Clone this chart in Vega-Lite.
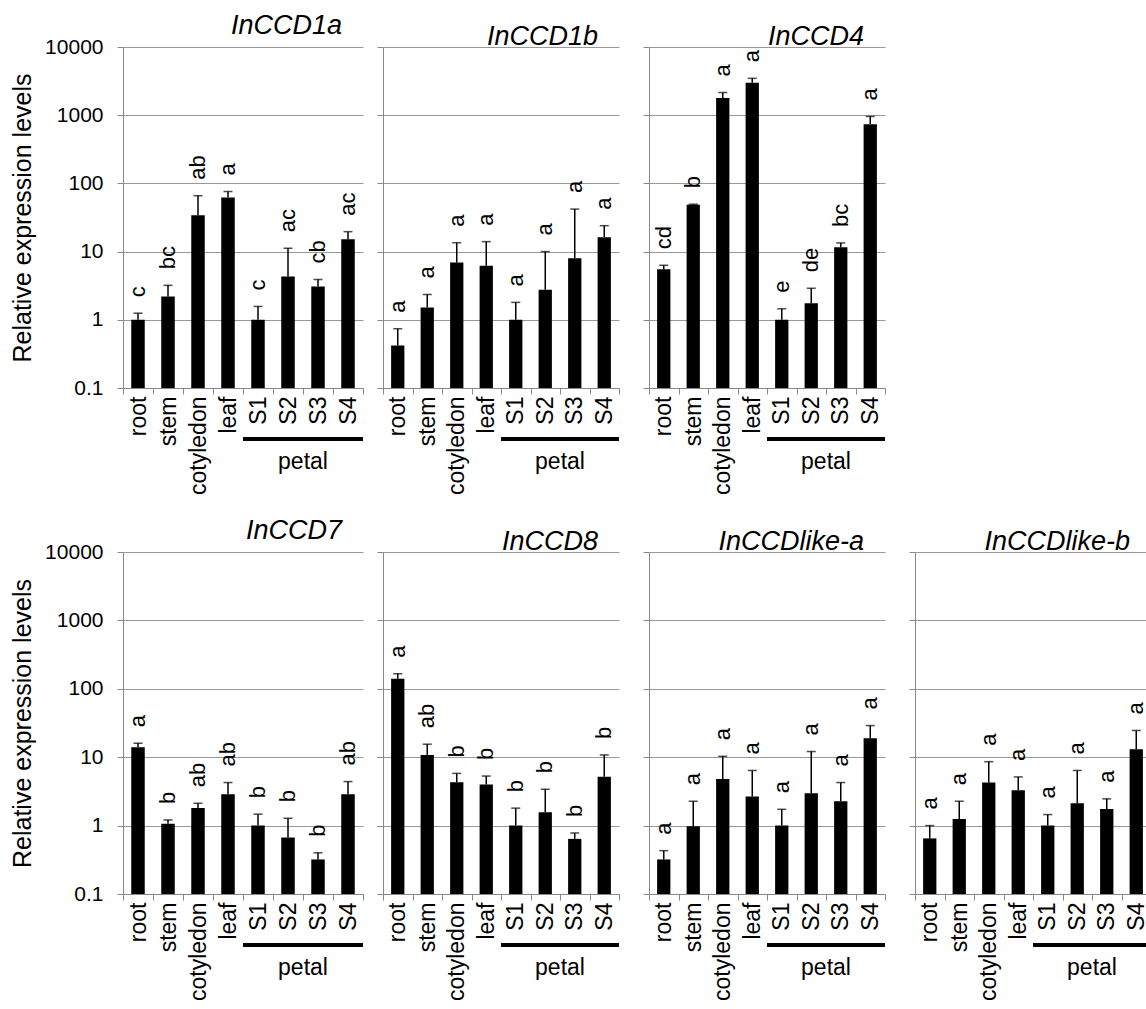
{
  "$schema": "https://vega.github.io/schema/vega-lite/v6.json",
  "background": "white",
  "padding": {"left": 10, "top": 12, "right": 0, "bottom": 0},
  "datasets": {
    "expr": [
      {"gene": "InCCD1a", "tissue": "root", "mean": 1.0, "upper": 1.25, "letter": "c"},
      {"gene": "InCCD1a", "tissue": "stem", "mean": 2.2, "upper": 3.2, "letter": "bc"},
      {"gene": "InCCD1a", "tissue": "cotyledon", "mean": 34, "upper": 66, "letter": "ab"},
      {"gene": "InCCD1a", "tissue": "leaf", "mean": 62, "upper": 76, "letter": "a"},
      {"gene": "InCCD1a", "tissue": "S1", "mean": 1.0, "upper": 1.57, "letter": "c"},
      {"gene": "InCCD1a", "tissue": "S2", "mean": 4.3, "upper": 11.2, "letter": "ac"},
      {"gene": "InCCD1a", "tissue": "S3", "mean": 3.07, "upper": 3.9, "letter": "cb"},
      {"gene": "InCCD1a", "tissue": "S4", "mean": 15.2, "upper": 19.6, "letter": "ac"},
      {"gene": "InCCD1b", "tissue": "root", "mean": 0.42, "upper": 0.74, "letter": "a"},
      {"gene": "InCCD1b", "tissue": "stem", "mean": 1.51, "upper": 2.35, "letter": "a"},
      {"gene": "InCCD1b", "tissue": "cotyledon", "mean": 6.9, "upper": 13.5, "letter": "a"},
      {"gene": "InCCD1b", "tissue": "leaf", "mean": 6.2, "upper": 14.0, "letter": "a"},
      {"gene": "InCCD1b", "tissue": "S1", "mean": 1.0, "upper": 1.8, "letter": "a"},
      {"gene": "InCCD1b", "tissue": "S2", "mean": 2.75, "upper": 10, "letter": "a"},
      {"gene": "InCCD1b", "tissue": "S3", "mean": 8.0, "upper": 42, "letter": "a"},
      {"gene": "InCCD1b", "tissue": "S4", "mean": 16.2, "upper": 24, "letter": "a"},
      {"gene": "InCCD4", "tissue": "root", "mean": 5.5, "upper": 6.3, "letter": "cd"},
      {"gene": "InCCD4", "tissue": "stem", "mean": 48.7, "upper": 49.5, "letter": "b"},
      {"gene": "InCCD4", "tissue": "cotyledon", "mean": 1790, "upper": 2150, "letter": "a"},
      {"gene": "InCCD4", "tissue": "leaf", "mean": 3000, "upper": 3470, "letter": "a"},
      {"gene": "InCCD4", "tissue": "S1", "mean": 1.0, "upper": 1.45, "letter": "e"},
      {"gene": "InCCD4", "tissue": "S2", "mean": 1.75, "upper": 2.9, "letter": "de"},
      {"gene": "InCCD4", "tissue": "S3", "mean": 11.6, "upper": 13.4, "letter": "bc"},
      {"gene": "InCCD4", "tissue": "S4", "mean": 738, "upper": 958, "letter": "a"},
      {"gene": "InCCD7", "tissue": "root", "mean": 14, "upper": 16, "letter": "a"},
      {"gene": "InCCD7", "tissue": "stem", "mean": 1.06, "upper": 1.21, "letter": "b"},
      {"gene": "InCCD7", "tissue": "cotyledon", "mean": 1.81, "upper": 2.12, "letter": "ab"},
      {"gene": "InCCD7", "tissue": "leaf", "mean": 2.87, "upper": 4.26, "letter": "ab"},
      {"gene": "InCCD7", "tissue": "S1", "mean": 1.0, "upper": 1.47, "letter": "b"},
      {"gene": "InCCD7", "tissue": "S2", "mean": 0.67, "upper": 1.28, "letter": "b"},
      {"gene": "InCCD7", "tissue": "S3", "mean": 0.32, "upper": 0.40, "letter": "b"},
      {"gene": "InCCD7", "tissue": "S4", "mean": 2.87, "upper": 4.4, "letter": "ab"},
      {"gene": "InCCD8", "tissue": "root", "mean": 140, "upper": 166, "letter": "a"},
      {"gene": "InCCD8", "tissue": "stem", "mean": 10.8, "upper": 15.5, "letter": "ab"},
      {"gene": "InCCD8", "tissue": "cotyledon", "mean": 4.3, "upper": 5.8, "letter": "b"},
      {"gene": "InCCD8", "tissue": "leaf", "mean": 4.0, "upper": 5.3, "letter": "b"},
      {"gene": "InCCD8", "tissue": "S1", "mean": 1.0, "upper": 1.8, "letter": "b"},
      {"gene": "InCCD8", "tissue": "S2", "mean": 1.57, "upper": 3.4, "letter": "b"},
      {"gene": "InCCD8", "tissue": "S3", "mean": 0.64, "upper": 0.78, "letter": "b"},
      {"gene": "InCCD8", "tissue": "S4", "mean": 5.2, "upper": 10.8, "letter": "b"},
      {"gene": "InCCDlike-a", "tissue": "root", "mean": 0.32, "upper": 0.43, "letter": "a"},
      {"gene": "InCCDlike-a", "tissue": "stem", "mean": 0.98, "upper": 2.27, "letter": "a"},
      {"gene": "InCCDlike-a", "tissue": "cotyledon", "mean": 4.8, "upper": 10.3, "letter": "a"},
      {"gene": "InCCDlike-a", "tissue": "leaf", "mean": 2.66, "upper": 6.4, "letter": "a"},
      {"gene": "InCCDlike-a", "tissue": "S1", "mean": 1.0, "upper": 1.73, "letter": "a"},
      {"gene": "InCCDlike-a", "tissue": "S2", "mean": 2.97, "upper": 12.1, "letter": "a"},
      {"gene": "InCCDlike-a", "tissue": "S3", "mean": 2.27, "upper": 4.26, "letter": "a"},
      {"gene": "InCCDlike-a", "tissue": "S4", "mean": 19, "upper": 29, "letter": "a"},
      {"gene": "InCCDlike-b", "tissue": "root", "mean": 0.65, "upper": 1.0, "letter": "a"},
      {"gene": "InCCDlike-b", "tissue": "stem", "mean": 1.25, "upper": 2.27, "letter": "a"},
      {"gene": "InCCDlike-b", "tissue": "cotyledon", "mean": 4.26, "upper": 8.6, "letter": "a"},
      {"gene": "InCCDlike-b", "tissue": "leaf", "mean": 3.3, "upper": 5.15, "letter": "a"},
      {"gene": "InCCDlike-b", "tissue": "S1", "mean": 1.0, "upper": 1.45, "letter": "a"},
      {"gene": "InCCDlike-b", "tissue": "S2", "mean": 2.12, "upper": 6.4, "letter": "a"},
      {"gene": "InCCDlike-b", "tissue": "S3", "mean": 1.75, "upper": 2.46, "letter": "a"},
      {"gene": "InCCDlike-b", "tissue": "S4", "mean": 13.1, "upper": 24.6, "letter": "a"}
    ],
    "petal": [{"label": "petal"}]
  },
  "spacing": 22,
  "vconcat": [
    {
      "spacing": 7,
      "hconcat": [
        {
          "width": 240, "height": 341, "title": "InCCD1a",
          "data": {"name": "expr"},
          "transform": [{"filter": "datum.gene === 'InCCD1a'"}],
          "encoding": {"x": {"field": "tissue", "type": "nominal", "title": null, "scale": {"domain": ["root","stem","cotyledon","leaf","S1","S2","S3","S4"], "paddingInner": 0, "paddingOuter": 0}}},
          "layer": [
            {"mark": {"type": "bar", "color": "black", "width": {"band": 0.45}}, "encoding": {"y": {"field": "mean", "type": "quantitative", "stack": null, "title": "Relative expression levels", "scale": {"type": "log", "domain": [0.1, 10000]}, "axis": {"values": [0.1,1,10,100,1000,10000], "format": "~g", "labels": true}}, "y2": {"datum": 0.1}}},
            {"mark": {"type": "rule", "color": "black", "strokeWidth": 1.5}, "encoding": {"y": {"field": "mean", "type": "quantitative", "title": "Relative expression levels"}, "y2": {"field": "upper"}}},
            {"mark": {"type": "tick", "color": "black", "thickness": 1.5, "size": 9}, "encoding": {"y": {"field": "upper", "type": "quantitative", "title": "Relative expression levels"}}},
            {"mark": {"type": "text", "angle": 270, "align": "left", "baseline": "middle", "dx": 16, "fontSize": 22, "color": "black"}, "encoding": {"y": {"field": "upper", "type": "quantitative", "title": "Relative expression levels"}, "text": {"field": "letter"}}},
            {"data": {"name": "petal"}, "mark": {"type": "rule", "color": "black", "strokeWidth": 4}, "encoding": {"x": {"datum": "S1", "bandPosition": 0}, "x2": {"datum": "S4", "bandPosition": 1}, "y": {"datum": 0.0179, "type": "quantitative", "title": "Relative expression levels"}}},
            {"data": {"name": "petal"}, "mark": {"type": "text", "fontSize": 23, "baseline": "middle", "color": "black"}, "encoding": {"x": {"datum": "S2", "bandPosition": 1}, "y": {"datum": 0.0083, "type": "quantitative", "title": "Relative expression levels"}, "text": {"field": "label"}}}
          ]
        },
        {
          "spacing": 17,
          "hconcat": [
            {
              "width": 236, "height": 341, "title": "InCCD1b",
              "data": {"name": "expr"},
              "transform": [{"filter": "datum.gene === 'InCCD1b'"}],
              "encoding": {"x": {"field": "tissue", "type": "nominal", "title": null, "scale": {"domain": ["root","stem","cotyledon","leaf","S1","S2","S3","S4"], "paddingInner": 0, "paddingOuter": 0}}},
              "layer": [
                {"mark": {"type": "bar", "color": "black", "width": {"band": 0.45}}, "encoding": {"y": {"field": "mean", "type": "quantitative", "stack": null, "title": null, "scale": {"type": "log", "domain": [0.1, 10000]}, "axis": {"values": [0.1,1,10,100,1000,10000], "labels": false}}, "y2": {"datum": 0.1}}},
                {"mark": {"type": "rule", "color": "black", "strokeWidth": 1.5}, "encoding": {"y": {"field": "mean", "type": "quantitative", "title": null}, "y2": {"field": "upper"}}},
                {"mark": {"type": "tick", "color": "black", "thickness": 1.5, "size": 9}, "encoding": {"y": {"field": "upper", "type": "quantitative", "title": null}}},
                {"mark": {"type": "text", "angle": 270, "align": "left", "baseline": "middle", "dx": 16, "fontSize": 22, "color": "black"}, "encoding": {"y": {"field": "upper", "type": "quantitative", "title": null}, "text": {"field": "letter"}}},
                {"data": {"name": "petal"}, "mark": {"type": "rule", "color": "black", "strokeWidth": 4}, "encoding": {"x": {"datum": "S1", "bandPosition": 0}, "x2": {"datum": "S4", "bandPosition": 1}, "y": {"datum": 0.0179, "type": "quantitative", "title": null}}},
                {"data": {"name": "petal"}, "mark": {"type": "text", "fontSize": 23, "baseline": "middle", "color": "black"}, "encoding": {"x": {"datum": "S2", "bandPosition": 1}, "y": {"datum": 0.0083, "type": "quantitative", "title": null}, "text": {"field": "label"}}}
              ]
            },
            {
              "width": 236, "height": 341, "title": "InCCD4",
              "data": {"name": "expr"},
              "transform": [{"filter": "datum.gene === 'InCCD4'"}],
              "encoding": {"x": {"field": "tissue", "type": "nominal", "title": null, "scale": {"domain": ["root","stem","cotyledon","leaf","S1","S2","S3","S4"], "paddingInner": 0, "paddingOuter": 0}}},
              "layer": [
                {"mark": {"type": "bar", "color": "black", "width": {"band": 0.45}}, "encoding": {"y": {"field": "mean", "type": "quantitative", "stack": null, "title": null, "scale": {"type": "log", "domain": [0.1, 10000]}, "axis": {"values": [0.1,1,10,100,1000,10000], "labels": false}}, "y2": {"datum": 0.1}}},
                {"mark": {"type": "rule", "color": "black", "strokeWidth": 1.5}, "encoding": {"y": {"field": "mean", "type": "quantitative", "title": null}, "y2": {"field": "upper"}}},
                {"mark": {"type": "tick", "color": "black", "thickness": 1.5, "size": 9}, "encoding": {"y": {"field": "upper", "type": "quantitative", "title": null}}},
                {"mark": {"type": "text", "angle": 270, "align": "left", "baseline": "middle", "dx": 16, "fontSize": 22, "color": "black"}, "encoding": {"y": {"field": "upper", "type": "quantitative", "title": null}, "text": {"field": "letter"}}},
                {"data": {"name": "petal"}, "mark": {"type": "rule", "color": "black", "strokeWidth": 4}, "encoding": {"x": {"datum": "S1", "bandPosition": 0}, "x2": {"datum": "S4", "bandPosition": 1}, "y": {"datum": 0.0179, "type": "quantitative", "title": null}}},
                {"data": {"name": "petal"}, "mark": {"type": "text", "fontSize": 23, "baseline": "middle", "color": "black"}, "encoding": {"x": {"datum": "S2", "bandPosition": 1}, "y": {"datum": 0.0083, "type": "quantitative", "title": null}, "text": {"field": "label"}}}
              ]
            }
          ]
        }
      ]
    },
    {
      "spacing": 7,
      "hconcat": [
        {
          "width": 240, "height": 342, "title": "InCCD7",
          "data": {"name": "expr"},
          "transform": [{"filter": "datum.gene === 'InCCD7'"}],
          "encoding": {"x": {"field": "tissue", "type": "nominal", "title": null, "scale": {"domain": ["root","stem","cotyledon","leaf","S1","S2","S3","S4"], "paddingInner": 0, "paddingOuter": 0}}},
          "layer": [
            {"mark": {"type": "bar", "color": "black", "width": {"band": 0.45}}, "encoding": {"y": {"field": "mean", "type": "quantitative", "stack": null, "title": "Relative expression levels", "scale": {"type": "log", "domain": [0.1, 10000]}, "axis": {"values": [0.1,1,10,100,1000,10000], "format": "~g", "labels": true}}, "y2": {"datum": 0.1}}},
            {"mark": {"type": "rule", "color": "black", "strokeWidth": 1.5}, "encoding": {"y": {"field": "mean", "type": "quantitative", "title": "Relative expression levels"}, "y2": {"field": "upper"}}},
            {"mark": {"type": "tick", "color": "black", "thickness": 1.5, "size": 9}, "encoding": {"y": {"field": "upper", "type": "quantitative", "title": "Relative expression levels"}}},
            {"mark": {"type": "text", "angle": 270, "align": "left", "baseline": "middle", "dx": 16, "fontSize": 22, "color": "black"}, "encoding": {"y": {"field": "upper", "type": "quantitative", "title": "Relative expression levels"}, "text": {"field": "letter"}}},
            {"data": {"name": "petal"}, "mark": {"type": "rule", "color": "black", "strokeWidth": 4}, "encoding": {"x": {"datum": "S1", "bandPosition": 0}, "x2": {"datum": "S4", "bandPosition": 1}, "y": {"datum": 0.0179, "type": "quantitative", "title": "Relative expression levels"}}},
            {"data": {"name": "petal"}, "mark": {"type": "text", "fontSize": 23, "baseline": "middle", "color": "black"}, "encoding": {"x": {"datum": "S2", "bandPosition": 1}, "y": {"datum": 0.0083, "type": "quantitative", "title": "Relative expression levels"}, "text": {"field": "label"}}}
          ]
        },
        {
          "spacing": 17,
          "hconcat": [
            {
              "width": 236, "height": 342, "title": "InCCD8",
              "data": {"name": "expr"},
              "transform": [{"filter": "datum.gene === 'InCCD8'"}],
              "encoding": {"x": {"field": "tissue", "type": "nominal", "title": null, "scale": {"domain": ["root","stem","cotyledon","leaf","S1","S2","S3","S4"], "paddingInner": 0, "paddingOuter": 0}}},
              "layer": [
                {"mark": {"type": "bar", "color": "black", "width": {"band": 0.45}}, "encoding": {"y": {"field": "mean", "type": "quantitative", "stack": null, "title": null, "scale": {"type": "log", "domain": [0.1, 10000]}, "axis": {"values": [0.1,1,10,100,1000,10000], "labels": false}}, "y2": {"datum": 0.1}}},
                {"mark": {"type": "rule", "color": "black", "strokeWidth": 1.5}, "encoding": {"y": {"field": "mean", "type": "quantitative", "title": null}, "y2": {"field": "upper"}}},
                {"mark": {"type": "tick", "color": "black", "thickness": 1.5, "size": 9}, "encoding": {"y": {"field": "upper", "type": "quantitative", "title": null}}},
                {"mark": {"type": "text", "angle": 270, "align": "left", "baseline": "middle", "dx": 16, "fontSize": 22, "color": "black"}, "encoding": {"y": {"field": "upper", "type": "quantitative", "title": null}, "text": {"field": "letter"}}},
                {"data": {"name": "petal"}, "mark": {"type": "rule", "color": "black", "strokeWidth": 4}, "encoding": {"x": {"datum": "S1", "bandPosition": 0}, "x2": {"datum": "S4", "bandPosition": 1}, "y": {"datum": 0.0179, "type": "quantitative", "title": null}}},
                {"data": {"name": "petal"}, "mark": {"type": "text", "fontSize": 23, "baseline": "middle", "color": "black"}, "encoding": {"x": {"datum": "S2", "bandPosition": 1}, "y": {"datum": 0.0083, "type": "quantitative", "title": null}, "text": {"field": "label"}}}
              ]
            },
            {
              "width": 236, "height": 342, "title": "InCCDlike-a",
              "data": {"name": "expr"},
              "transform": [{"filter": "datum.gene === 'InCCDlike-a'"}],
              "encoding": {"x": {"field": "tissue", "type": "nominal", "title": null, "scale": {"domain": ["root","stem","cotyledon","leaf","S1","S2","S3","S4"], "paddingInner": 0, "paddingOuter": 0}}},
              "layer": [
                {"mark": {"type": "bar", "color": "black", "width": {"band": 0.45}}, "encoding": {"y": {"field": "mean", "type": "quantitative", "stack": null, "title": null, "scale": {"type": "log", "domain": [0.1, 10000]}, "axis": {"values": [0.1,1,10,100,1000,10000], "labels": false}}, "y2": {"datum": 0.1}}},
                {"mark": {"type": "rule", "color": "black", "strokeWidth": 1.5}, "encoding": {"y": {"field": "mean", "type": "quantitative", "title": null}, "y2": {"field": "upper"}}},
                {"mark": {"type": "tick", "color": "black", "thickness": 1.5, "size": 9}, "encoding": {"y": {"field": "upper", "type": "quantitative", "title": null}}},
                {"mark": {"type": "text", "angle": 270, "align": "left", "baseline": "middle", "dx": 16, "fontSize": 22, "color": "black"}, "encoding": {"y": {"field": "upper", "type": "quantitative", "title": null}, "text": {"field": "letter"}}},
                {"data": {"name": "petal"}, "mark": {"type": "rule", "color": "black", "strokeWidth": 4}, "encoding": {"x": {"datum": "S1", "bandPosition": 0}, "x2": {"datum": "S4", "bandPosition": 1}, "y": {"datum": 0.0179, "type": "quantitative", "title": null}}},
                {"data": {"name": "petal"}, "mark": {"type": "text", "fontSize": 23, "baseline": "middle", "color": "black"}, "encoding": {"x": {"datum": "S2", "bandPosition": 1}, "y": {"datum": 0.0083, "type": "quantitative", "title": null}, "text": {"field": "label"}}}
              ]
            },
            {
              "width": 236, "height": 342, "title": "InCCDlike-b",
              "data": {"name": "expr"},
              "transform": [{"filter": "datum.gene === 'InCCDlike-b'"}],
              "encoding": {"x": {"field": "tissue", "type": "nominal", "title": null, "scale": {"domain": ["root","stem","cotyledon","leaf","S1","S2","S3","S4"], "paddingInner": 0, "paddingOuter": 0}}},
              "layer": [
                {"mark": {"type": "bar", "color": "black", "width": {"band": 0.45}}, "encoding": {"y": {"field": "mean", "type": "quantitative", "stack": null, "title": null, "scale": {"type": "log", "domain": [0.1, 10000]}, "axis": {"values": [0.1,1,10,100,1000,10000], "labels": false}}, "y2": {"datum": 0.1}}},
                {"mark": {"type": "rule", "color": "black", "strokeWidth": 1.5}, "encoding": {"y": {"field": "mean", "type": "quantitative", "title": null}, "y2": {"field": "upper"}}},
                {"mark": {"type": "tick", "color": "black", "thickness": 1.5, "size": 9}, "encoding": {"y": {"field": "upper", "type": "quantitative", "title": null}}},
                {"mark": {"type": "text", "angle": 270, "align": "left", "baseline": "middle", "dx": 16, "fontSize": 22, "color": "black"}, "encoding": {"y": {"field": "upper", "type": "quantitative", "title": null}, "text": {"field": "letter"}}},
                {"data": {"name": "petal"}, "mark": {"type": "rule", "color": "black", "strokeWidth": 4}, "encoding": {"x": {"datum": "S1", "bandPosition": 0}, "x2": {"datum": "S4", "bandPosition": 1}, "y": {"datum": 0.0179, "type": "quantitative", "title": null}}},
                {"data": {"name": "petal"}, "mark": {"type": "text", "fontSize": 23, "baseline": "middle", "color": "black"}, "encoding": {"x": {"datum": "S2", "bandPosition": 1}, "y": {"datum": 0.0083, "type": "quantitative", "title": null}, "text": {"field": "label"}}}
              ]
            }
          ]
        }
      ]
    }
  ],
  "config": {
    "font": "Liberation Sans",
    "view": {"stroke": null},
    "axis": {"domainColor": "#888888", "tickColor": "#888888", "gridColor": "#999999", "labelColor": "black", "titleColor": "black", "labelFont": "Liberation Sans", "titleFont": "Liberation Sans", "titleFontWeight": "normal"},
    "axisX": {"grid": false, "tickBand": "extent", "labelAngle": 270, "labelFontSize": 23, "tickSize": 6, "labelPadding": 2},
    "axisY": {"grid": true, "tickSize": 6, "labelFontSize": 21, "labelPadding": 14, "titleFontSize": 25, "titlePadding": 9},
    "title": {"anchor": "end", "fontStyle": "italic", "fontSize": 27, "fontWeight": "normal", "color": "black", "font": "Liberation Sans", "offset": -4, "dx": -23}
  }
}
